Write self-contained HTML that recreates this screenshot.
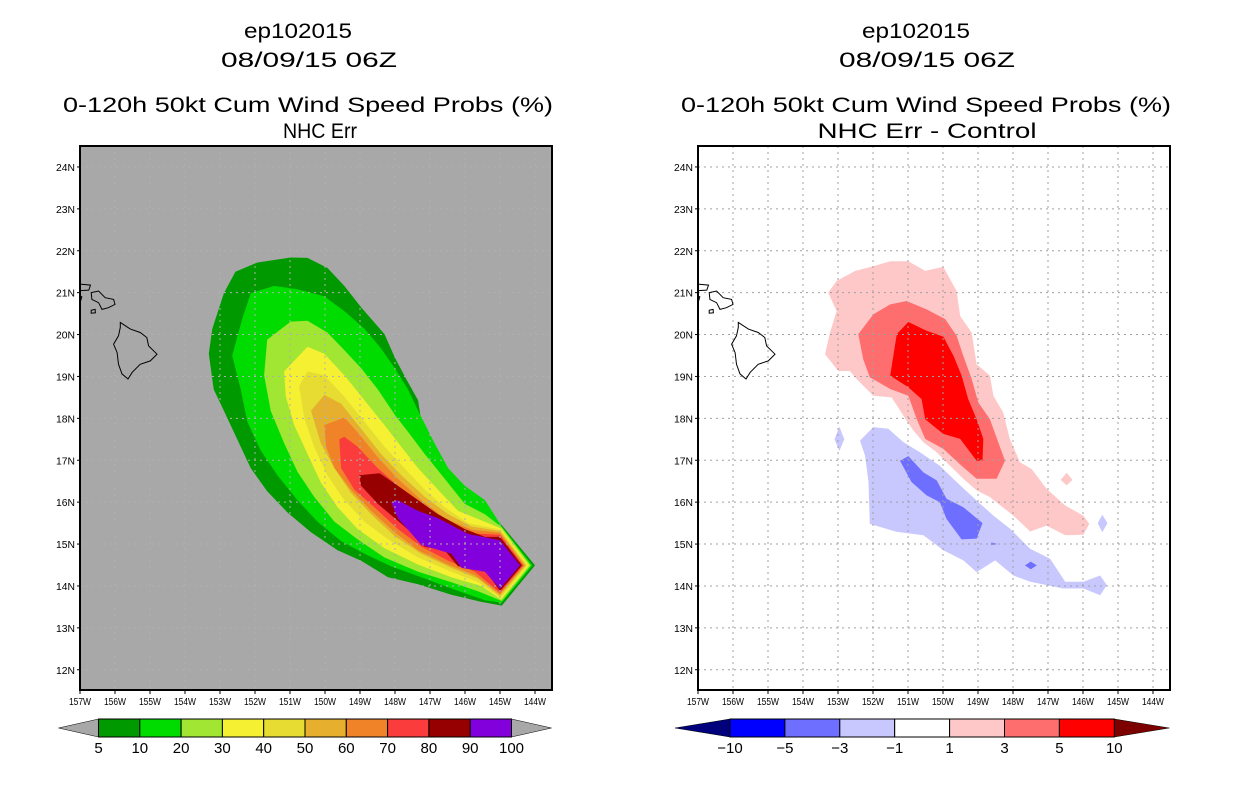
<!DOCTYPE html>
<html><head><meta charset="utf-8"><style>
html,body{margin:0;padding:0;background:#fff;}
svg{display:block;font-family:"Liberation Sans",sans-serif;}
.t{font-family:"Liberation Sans",sans-serif;font-size:21px;fill:#000;}
.tk{font-size:10px;fill:#000;font-family:"Liberation Sans",sans-serif;}
.cb{font-size:15px;fill:#000;font-family:"Liberation Sans",sans-serif;}
</style></head><body>
<svg id="root" width="1236" height="800" viewBox="0 0 1236 800" xmlns="http://www.w3.org/2000/svg">
<defs>
<clipPath id="clipL"><rect x="80" y="146" width="472" height="544"/></clipPath>
<clipPath id="clipR"><rect x="698" y="146" width="472" height="544"/></clipPath>
</defs>
<g>
<text class="t" x="298" y="38" text-anchor="middle" textLength="108" lengthAdjust="spacingAndGlyphs">ep102015</text>
<text class="t" x="309" y="67" text-anchor="middle" textLength="176" lengthAdjust="spacingAndGlyphs">08/09/15 06Z</text>
<text class="t" x="308" y="112" text-anchor="middle" textLength="490" lengthAdjust="spacingAndGlyphs">0-120h 50kt Cum Wind Speed Probs (%)</text>
<text class="t" x="320" y="138" text-anchor="middle" textLength="74" lengthAdjust="spacingAndGlyphs">NHC Err</text>
</g>
<g>
<text class="t" x="916" y="38" text-anchor="middle" textLength="108" lengthAdjust="spacingAndGlyphs">ep102015</text>
<text class="t" x="927" y="67" text-anchor="middle" textLength="176" lengthAdjust="spacingAndGlyphs">08/09/15 06Z</text>
<text class="t" x="926" y="112" text-anchor="middle" textLength="490" lengthAdjust="spacingAndGlyphs">0-120h 50kt Cum Wind Speed Probs (%)</text>
<text class="t" x="927" y="138" text-anchor="middle" textLength="219" lengthAdjust="spacingAndGlyphs">NHC Err - Control</text>
</g>
<g id="panelL"></g>
<g id="panelR"></g>
<g id="cbL"></g>
<g id="cbR"></g>
</svg>
<script>
const NS="http://www.w3.org/2000/svg";
const lonTicks=[157,156,155,154,153,152,151,150,149,148,147,146,145,144];
const latTicks=[12,13,14,15,16,17,18,19,20,21,22,23,24];
// left probability contours [lon,lat]
const probLevels=[5,10,20,30,40,50,60,70,80,90];
const probColors=["#009a00","#00dc00","#a0e632","#f5f032","#e6dc32","#e6af2d","#f08228","#fa3c3c","#960000","#8200dc"];
const p5=[[-152.56,21.50],[-151.93,21.72],[-150.98,21.84],[-150.50,21.83],[-149.93,21.59],[-149.45,21.16],[-148.97,20.65],[-148.30,20.01],[-148.01,19.46],[-147.68,18.94],[-147.34,18.43],[-147.25,17.92],[-146.96,17.41],[-146.39,16.56],[-145.91,16.13],[-145.34,15.79],[-144.95,15.45],[-144.00,14.49],[-144.95,13.53],[-145.53,13.62],[-146.39,13.79],[-147.34,14.04],[-148.20,14.21],[-148.97,14.60],[-149.64,14.85],[-150.40,15.28],[-151.07,15.75],[-151.65,16.26],[-152.12,16.81],[-152.51,17.50],[-152.89,18.18],[-153.18,18.69],[-153.32,19.54],[-153.22,20.14],[-152.89,20.99]];
const p10=[[-152.12,20.99],[-151.45,21.16],[-150.79,21.08],[-150.02,20.91],[-149.45,20.56],[-148.87,20.14],[-148.40,19.67],[-148.01,19.20],[-147.63,18.69],[-147.34,18.18],[-146.87,17.41],[-146.48,16.81],[-146.01,16.39],[-145.43,16.05],[-144.95,15.42],[-144.07,14.49],[-144.95,13.60],[-145.43,13.66],[-146.29,13.91],[-147.25,14.21],[-148.11,14.47],[-148.87,14.77],[-149.54,15.07],[-150.21,15.53],[-150.79,16.05],[-151.36,16.64],[-151.84,17.24],[-152.22,17.92],[-152.41,18.69],[-152.65,19.50],[-152.36,20.39]];
const p20=[[-151.65,19.88],[-150.98,20.31],[-150.50,20.33],[-149.93,20.05],[-149.45,19.63],[-148.97,19.20],[-148.49,18.69],[-148.01,18.09],[-147.54,17.58],[-147.15,17.15],[-146.58,16.56],[-146.01,15.96],[-145.43,15.71],[-144.95,15.40],[-144.12,14.49],[-144.95,13.64],[-145.62,13.87],[-146.39,14.09],[-147.34,14.34],[-148.30,14.68],[-149.07,15.11],[-149.73,15.53],[-150.31,16.13],[-150.79,16.73],[-151.17,17.41],[-151.55,18.18],[-151.74,19.03]];
const p30=[[-151.17,19.12],[-150.50,19.71],[-150.02,19.54],[-149.45,19.03],[-148.87,18.43],[-148.30,17.84],[-147.82,17.32],[-147.34,16.81],[-146.77,16.30],[-146.20,15.79],[-145.43,15.53],[-144.97,15.37],[-144.17,14.49],[-144.97,13.68],[-145.53,14.00],[-146.39,14.21],[-147.34,14.51],[-148.30,14.90],[-149.07,15.36],[-149.64,15.88],[-150.12,16.47],[-150.50,17.15],[-150.88,17.84],[-151.12,18.52]];
const p40=[[-150.74,18.77],[-150.50,19.12],[-150.02,19.03],[-149.45,18.52],[-148.87,17.92],[-148.30,17.32],[-147.73,16.81],[-147.15,16.30],[-146.58,15.88],[-145.91,15.50],[-144.98,15.34],[-144.22,14.49],[-144.98,13.72],[-145.62,14.09],[-146.39,14.34],[-147.34,14.68],[-148.20,15.11],[-148.87,15.53],[-149.45,16.05],[-149.93,16.64],[-150.31,17.32],[-150.59,18.01]];
const p50=[[-150.40,18.18],[-150.02,18.56],[-149.54,18.35],[-148.97,17.75],[-148.40,17.15],[-147.82,16.64],[-147.15,16.13],[-146.48,15.71],[-145.81,15.42],[-145.00,15.31],[-144.26,14.49],[-145.00,13.76],[-145.62,14.17],[-146.39,14.43],[-147.25,14.77],[-148.01,15.19],[-148.68,15.71],[-149.26,16.22],[-149.73,16.81],[-150.12,17.41]];
const p60=[[-150.02,17.84],[-149.45,18.02],[-149.07,17.67],[-148.49,17.07],[-147.92,16.56],[-147.25,16.05],[-146.58,15.62],[-145.81,15.34],[-145.00,15.27],[-144.30,14.49],[-145.00,13.80],[-145.72,14.26],[-146.48,14.51],[-147.34,14.85],[-148.01,15.28],[-148.68,15.79],[-149.26,16.30],[-149.73,16.81],[-149.97,17.32]];
const p70=[[-149.59,17.50],[-149.45,17.56],[-149.07,17.32],[-148.49,16.81],[-147.92,16.39],[-147.25,15.88],[-146.58,15.53],[-145.91,15.26],[-145.00,15.22],[-144.34,14.49],[-145.00,13.84],[-145.72,14.34],[-146.48,14.60],[-147.25,14.94],[-147.92,15.36],[-148.59,15.88],[-149.16,16.30],[-149.54,16.81]];
const p80=[[-149.02,16.64],[-148.44,16.69],[-147.92,16.39],[-147.34,16.05],[-146.77,15.71],[-146.01,15.36],[-145.43,15.17],[-145.00,15.17],[-144.37,14.49],[-145.00,13.88],[-145.43,14.38],[-146.20,14.47],[-146.58,14.85],[-147.15,14.94],[-147.54,15.28],[-148.01,15.62],[-148.49,15.96],[-148.97,16.39]];
const p90=[[-148.11,16.00],[-147.92,16.05],[-147.34,15.79],[-146.77,15.62],[-146.39,15.45],[-145.91,15.24],[-145.00,15.09],[-144.43,14.49],[-145.00,13.93],[-145.43,14.34],[-146.10,14.43],[-146.39,14.77],[-147.25,14.98],[-147.92,15.62]];
const probPolys=[p5,p10,p20,p30,p40,p50,p60,p70,p80,p90];
// right difference contours
const diffColors={"1":"#ffc8c8","3":"#ff6e6e","5":"#ff0000","-1":"#c8c8ff","-3":"#6e6eff"};
const dPos1=[[-153.28,21.00],[-153.04,21.28],[-152.51,21.52],[-151.99,21.63],[-151.51,21.75],[-150.99,21.75],[-150.51,21.52],[-149.99,21.62],[-149.61,21.04],[-149.51,20.44],[-149.18,20.05],[-149.04,19.29],[-148.66,19.02],[-148.56,18.54],[-148.28,18.14],[-148.09,17.51],[-147.80,16.95],[-147.47,16.79],[-147.04,16.32],[-146.51,15.92],[-145.99,15.68],[-145.82,15.48],[-145.99,15.22],[-146.51,15.21],[-147.04,15.44],[-147.51,15.30],[-147.99,15.68],[-148.66,16.12],[-149.04,16.28],[-149.42,16.56],[-149.90,16.95],[-150.18,17.19],[-150.56,17.43],[-150.85,17.71],[-151.13,18.06],[-151.47,18.50],[-151.99,18.54],[-152.47,18.94],[-152.66,19.13],[-152.99,19.13],[-153.37,19.53],[-153.23,20.05],[-153.04,20.56]];
const dPos3=[[-152.42,20.01],[-151.99,20.48],[-151.51,20.72],[-151.04,20.80],[-150.47,20.60],[-149.94,20.37],[-149.61,19.97],[-149.42,19.49],[-149.18,18.94],[-148.99,18.38],[-148.66,17.98],[-148.23,16.99],[-148.47,16.56],[-149.04,16.56],[-149.47,16.87],[-149.99,17.27],[-150.51,17.51],[-150.75,17.98],[-150.99,18.54],[-151.51,18.70],[-152.09,18.98],[-152.28,19.41]];
const dPos5=[[-151.32,20.01],[-150.99,20.30],[-150.47,20.09],[-149.99,19.95],[-149.70,19.49],[-149.47,19.02],[-149.28,18.46],[-149.04,17.98],[-148.85,17.51],[-148.87,16.99],[-149.04,16.99],[-149.51,17.51],[-149.99,17.63],[-150.51,17.98],[-150.61,18.46],[-150.99,18.74],[-151.51,19.02]];
const dNeg1=[[-152.37,17.47],[-151.99,17.79],[-151.56,17.75],[-151.13,17.43],[-150.66,17.19],[-150.09,16.87],[-149.61,16.48],[-148.99,16.00],[-148.56,15.68],[-148.09,15.37],[-147.51,14.89],[-146.94,14.65],[-146.51,14.10],[-145.99,14.10],[-145.51,14.25],[-145.32,14.02],[-145.51,13.78],[-145.99,13.94],[-146.56,13.94],[-147.04,14.02],[-147.51,14.10],[-147.99,14.25],[-148.51,14.61],[-149.04,14.33],[-149.42,14.61],[-149.99,14.85],[-150.56,15.21],[-151.32,15.29],[-152.09,15.48],[-152.13,16.48],[-152.23,17.11]];
const dNeg1b=[[-152.96,17.80],[-152.82,17.50],[-152.96,17.22],[-153.10,17.50]];
const dPos1b=[[-146.47,16.70],[-146.30,16.53],[-146.47,16.40],[-146.64,16.53]];
const dNeg1c=[[-145.45,15.70],[-145.30,15.50],[-145.45,15.28],[-145.58,15.50]];
const dNeg3=[[-151.23,16.99],[-150.99,17.10],[-150.56,16.71],[-150.18,16.52],[-149.90,16.08],[-149.42,15.88],[-148.87,15.50],[-149.04,15.13],[-149.47,15.11],[-149.90,15.60],[-150.09,16.00],[-150.47,16.16],[-150.90,16.48]];
const dNeg3b=[[-147.49,14.58],[-147.32,14.49],[-147.49,14.40],[-147.66,14.49]];
const dNeg3c=[[-148.62,15.04],[-148.45,15.00],[-148.62,14.97]];
const diffPolys=[["1",dPos1],["1",dPos1b],["3",dPos3],["5",dPos5],["-1",dNeg1],["-1",dNeg1b],["-1",dNeg1c],["-3",dNeg3],["-3",dNeg3b],["-3",dNeg3c]];
// coastlines
const bigIsland=[[-155.85,20.29],[-155.56,20.13],[-155.28,20.05],[-155.09,19.93],[-155.04,19.73],[-154.80,19.53],[-154.99,19.37],[-155.28,19.29],[-155.51,19.10],[-155.63,18.94],[-155.80,19.06],[-155.90,19.29],[-155.94,19.57],[-156.04,19.77],[-155.90,19.97],[-155.85,20.17]];
const maui=[[-156.68,21.00],[-156.47,21.04],[-156.28,20.88],[-156.04,20.84],[-156.00,20.72],[-156.19,20.64],[-156.37,20.60],[-156.47,20.76],[-156.66,20.84]];
const molokai=[[-157.2,21.22],[-156.70,21.18],[-156.75,21.06],[-157.2,21.04]];
const lanai=[[-157.2,20.95],[-156.95,20.90],[-157.0,20.75],[-157.2,20.72]];
const kahoolawe=[[-156.68,20.58],[-156.57,20.60],[-156.56,20.52],[-156.68,20.51]];
const coasts=[bigIsland,maui,molokai,lanai,kahoolawe];
// colorbars
const probLabels=["5","10","20","30","40","50","60","70","80","90","100"];
const diffLabels=["-10","-5","-3","-1","1","3","5","10"];
const diffBarColors=["#0000ff","#6e6eff","#c8c8ff","#ffffff","#ffc8c8","#ff6e6e","#ff0000"];

const PX=35, PY=41.9, TOP=146, LATTOP=24.5;
function xs(x0){return lon=>x0+(lon+157)*PX;}
function ys(lat){return TOP+(LATTOP-lat)*PY;}
function el(tag,attrs,parent){const e=document.createElementNS(NS,tag);for(const k in attrs)e.setAttribute(k,attrs[k]);parent.appendChild(e);return e;}
function ptsStr(poly,xf){return poly.map(p=>xf(p[0]).toFixed(1)+","+ys(p[1]).toFixed(1)).join(" ");}

function drawPanel(gid,x0,bg,clip,right){
  const g=document.getElementById(gid);const xf=xs(x0);
  const bgr=el("rect",{x:x0,y:TOP,width:472,height:544,fill:bg},g);
  
  
  const cg=el("g",{"clip-path":"url(#"+clip+")"},g);
  
  
  if(!right){
    probPolys.forEach((poly,i)=>{
      const p=el("polygon",{points:ptsStr(poly,xf),fill:probColors[i]},cg);
      
      
    });
  }else{
    diffPolys.forEach(d=>{
      const p=el("polygon",{points:ptsStr(d[1],xf),fill:diffColors[d[0]]},cg);
      
      
    });
  }
  const gg=el("g",{stroke:right?"#a0a0a0":"#b0b0b0","stroke-width":1,"stroke-dasharray":"2,4"},cg);
  
  
  lonTicks.forEach(l=>{const x=xf(-l);el("line",{x1:x,y1:TOP,x2:x,y2:690},gg);});
  latTicks.forEach(l=>{const y=ys(l);el("line",{x1:x0,y1:y,x2:x0+472,y2:y},gg);});
  coasts.forEach(c=>{
    const p=el("polygon",{points:ptsStr(c,xf),fill:"none",stroke:"#000","stroke-width":1},cg);
    
    
  });
  const fr=el("rect",{x:x0,y:TOP,width:472,height:544,fill:"none",stroke:"#000","stroke-width":2},g);
  
  
  lonTicks.forEach(l=>{
    const x=xf(-l);
    el("line",{x1:x,y1:690,x2:x,y2:694,stroke:"#000"},g);
    const t=el("text",{x:x,y:705,"text-anchor":"middle",class:"tk",textLength:22,lengthAdjust:"spacingAndGlyphs"},g);
    t.textContent=l+"W";
    
    
  });
  latTicks.forEach(l=>{
    const y=ys(l);
    el("line",{x1:x0-3,y1:y,x2:x0,y2:y,stroke:"#000"},g);
    const t=el("text",{x:x0-5,y:y+4,"text-anchor":"end",class:"tk",textLength:19,lengthAdjust:"spacingAndGlyphs"},g);
    t.textContent=l+"N";
    
    
  });
}
drawPanel("panelL",80,"#a8a8a8","clipL",false);
drawPanel("panelR",698,"#ffffff","clipR",true);

function colorbar(gid,x0,segW,colors,leftTri,rightTri,labels,triW){
  const g=document.getElementById(gid);const y0=719,h=18;
  const n=colors.length;const x1=x0+n*segW;
  const lt=el("polygon",{points:(x0-triW)+","+(y0+h/2)+" "+x0+","+y0+" "+x0+","+(y0+h),fill:leftTri,stroke:"#000","stroke-width":0.5},g);
  
  
  const rt=el("polygon",{points:x1+","+y0+" "+(x1+triW)+","+(y0+h/2)+" "+x1+","+(y0+h),fill:rightTri,stroke:"#000","stroke-width":0.5},g);
  
  
  colors.forEach((c,i)=>{
    const r=el("rect",{x:x0+i*segW,y:y0,width:segW,height:h,fill:c,stroke:"#000","stroke-width":1},g);
    
    
  });
  labels.forEach((lb,i)=>{
    const t=el("text",{x:x0+i*segW,y:753,"text-anchor":"middle",class:"cb"},g);
    t.textContent=lb.replace("-","\u2212");
    
    
  });
}
colorbar("cbL",98.5,41.3,probColors,"#a8a8a8","#a8a8a8",probLabels,40);
colorbar("cbR",730,54.9,diffBarColors,"#00007d","#7d0000",diffLabels,55);
</script>
</body></html>
